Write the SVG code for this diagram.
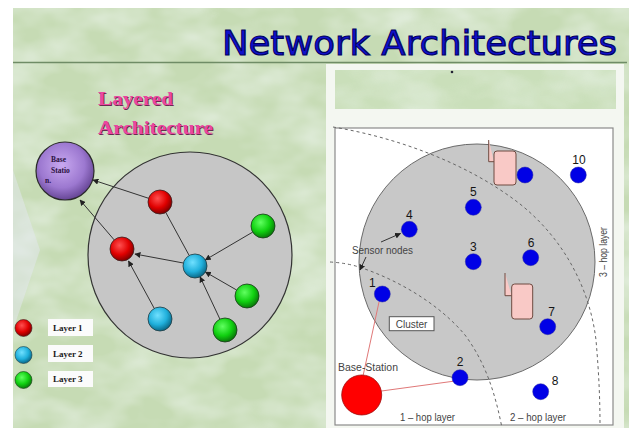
<svg xmlns="http://www.w3.org/2000/svg" width="629" height="428" viewBox="0 0 629 428">
<defs>
<style>
.arr{stroke:#333;stroke-width:1;fill:none;marker-end:url(#ah)}
.plain{stroke:#333;stroke-width:1;fill:none}
.red{stroke:#e07878;stroke-width:1;fill:none}
.dash{stroke:#666;stroke-width:1;fill:none;stroke-dasharray:3 3}
.bn{fill:#0000e6;stroke:#2a2aa0;stroke-width:0.5}
.num{font-family:"Liberation Sans",Arial,sans-serif;font-size:12px;fill:#151515;text-anchor:middle}
.sm{font-family:"Liberation Sans",Arial,sans-serif;font-size:10px;fill:#444}
.leg{font-family:"Liberation Serif",serif;font-weight:bold;font-size:9px;fill:#1a1a1a}
.pink{fill:#f9c9c6;stroke:#6e4a40;stroke-width:1}
</style>
<marker id="ah" viewBox="0 0 10 10" refX="9" refY="5" markerWidth="6" markerHeight="6" markerUnits="userSpaceOnUse" orient="auto"><path d="M0,0 L10,5 L0,10 z" fill="#222"/></marker>
<radialGradient id="gRed" cx="0.4" cy="0.35" r="0.65"><stop offset="0" stop-color="#ff5050"/><stop offset="0.6" stop-color="#e00000"/><stop offset="1" stop-color="#800000"/></radialGradient>
<radialGradient id="gCy" cx="0.4" cy="0.35" r="0.65"><stop offset="0" stop-color="#70e0ff"/><stop offset="0.6" stop-color="#20b0dc"/><stop offset="1" stop-color="#0a6a8a"/></radialGradient>
<radialGradient id="gGr" cx="0.4" cy="0.35" r="0.65"><stop offset="0" stop-color="#60ff60"/><stop offset="0.6" stop-color="#10d010"/><stop offset="1" stop-color="#0a7a0a"/></radialGradient>
<radialGradient id="gPu" cx="0.45" cy="0.4" r="0.65"><stop offset="0" stop-color="#c8a8f0"/><stop offset="0.6" stop-color="#9c78d0"/><stop offset="1" stop-color="#5a3a88"/></radialGradient>
<filter id="tex" x="0" y="0" width="100%" height="100%">
<feTurbulence type="fractalNoise" baseFrequency="0.018 0.03" numOctaves="3" seed="7"/>
<feColorMatrix type="matrix" values="0 0 0 0 0.86  0 0 0 0 0.92  0 0 0 0 0.87  1.2 0 0 0 -0.42"/>
</filter>
</defs>

<!-- page -->
<rect x="0" y="0" width="629" height="428" fill="#ffffff"/>
<rect x="13" y="8" width="616" height="420" fill="#c6dbb4"/>
<rect x="13" y="8" width="616" height="420" filter="url(#tex)"/>
<polygon points="13,170 40,250 13,330" fill="#e3e7f0" opacity="0.5"/>

<!-- title -->
<text x="222" y="55" font-family="DejaVu Sans, sans-serif" font-size="34" fill="#1010cc" stroke="#000060" stroke-width="1.1" textLength="395" lengthAdjust="spacingAndGlyphs">Network Architectures</text>
<line x1="13" y1="62.5" x2="627" y2="62.5" stroke="#6f8c66" stroke-width="1.6"/>

<!-- right figure backdrop -->
<rect x="326" y="64" width="298" height="364" fill="#f4f7f1"/>
<rect x="335" y="70" width="281" height="39" fill="#cadfba"/>
<rect x="335" y="70" width="281" height="39" filter="url(#tex)" opacity="0.8"/>
<circle cx="452" cy="72" r="1.3" fill="#223"/>

<!-- left title -->
<g id="layered-title" font-family="Liberation Serif, serif" font-weight="bold" font-size="19">
<text x="99" y="106" fill="#6a2a50" textLength="75" lengthAdjust="spacingAndGlyphs">Layered</text>
<text x="98" y="105" fill="#ea46a0" textLength="75" lengthAdjust="spacingAndGlyphs">Layered</text>
<text x="99" y="135" fill="#6a2a50" textLength="115" lengthAdjust="spacingAndGlyphs">Architecture</text>
<text x="98" y="134" fill="#ea46a0" textLength="115" lengthAdjust="spacingAndGlyphs">Architecture</text>
</g>

<!-- left cluster -->
<g id="left-cluster"><ellipse cx="190" cy="255" rx="102" ry="103" fill="#c6c6c6" stroke="#333" stroke-width="1.2"/></g>

<g id="left-connectors">
<line class="arr" x1="148.6" y1="198.3" x2="93" y2="180"/>
<line class="arr" x1="114.2" y1="239.9" x2="80" y2="200"/>
<line class="plain" x1="189.2" y1="255.5" x2="165.8" y2="212.5"/>
<line class="arr" x1="183.3" y1="263" x2="135" y2="254"/>
<line class="arr" x1="252.7" y1="232.1" x2="205.3" y2="259.9"/>
<line class="arr" x1="236.6" y1="290" x2="205.4" y2="272"/>
<line class="arr" x1="219.9" y1="319.1" x2="200.1" y2="276.9"/>
<line class="arr" x1="154.3" y1="308.5" x2="128.5" y2="261"/>
</g>

<g id="base-station-left">
<circle cx="65" cy="171" r="29" fill="url(#gPu)" stroke="#2a2a2a" stroke-width="1.2"/>
<text x="51" y="162" font-family="Liberation Serif, serif" font-weight="bold" font-size="7.5" fill="#2a1040">Base</text>
<text x="51" y="173" font-family="Liberation Serif, serif" font-weight="bold" font-size="7.5" fill="#2a1040">Statio</text>
<text x="45" y="183" font-family="Liberation Serif, serif" font-weight="bold" font-size="7.5" fill="#2a1040">n.</text>
</g>
<g id="l1a"><circle cx="160" cy="202" r="12" fill="url(#gRed)" stroke="#3a2020" stroke-width="0.8"/></g>
<g id="l1b"><circle cx="122" cy="249" r="12" fill="url(#gRed)" stroke="#3a2020" stroke-width="0.8"/></g>
<g id="l2a"><circle cx="195" cy="266" r="12" fill="url(#gCy)" stroke="#203a40" stroke-width="0.8"/></g>
<g id="l2b"><circle cx="160" cy="319" r="12" fill="url(#gCy)" stroke="#203a40" stroke-width="0.8"/></g>
<g id="l3a"><circle cx="263" cy="226" r="12" fill="url(#gGr)" stroke="#1a3a1a" stroke-width="0.8"/></g>
<g id="l3b"><circle cx="247" cy="296" r="12" fill="url(#gGr)" stroke="#1a3a1a" stroke-width="0.8"/></g>
<g id="l3c"><circle cx="225" cy="330" r="12" fill="url(#gGr)" stroke="#1a3a1a" stroke-width="0.8"/></g>

<!-- legend -->
<g id="legend1"><circle cx="23.5" cy="328" r="8.5" fill="url(#gRed)" stroke="#3a2020" stroke-width="0.6"/><rect x="48" y="319" width="45" height="17" fill="#fbfbfb"/><text class="leg" x="53" y="331">Layer 1</text></g>
<g id="legend2"><circle cx="23.5" cy="355" r="8.5" fill="url(#gCy)" stroke="#203a40" stroke-width="0.6"/><rect x="48" y="345" width="45" height="17" fill="#fbfbfb"/><text class="leg" x="53" y="357">Layer 2</text></g>
<g id="legend3"><circle cx="23.5" cy="380" r="8.5" fill="url(#gGr)" stroke="#1a3a1a" stroke-width="0.6"/><rect x="48" y="371" width="45" height="16" fill="#fbfbfb"/><text class="leg" x="53" y="382">Layer 3</text></g>

<!-- right panel -->
<g id="right-panel">
<rect x="335" y="128" width="278" height="297" fill="#ffffff" stroke="#8a8a8a" stroke-width="1.2"/>
<circle cx="477" cy="262" r="118" fill="#c8c8c8" stroke="#6a6a6a" stroke-width="1"/>
</g>

<g id="hop-arcs">
<path class="dash" d="M330,262 Q348,263 362,268 C400,281 440,305 465,335 C485,362 495,392 502,428"/>
<path class="dash" d="M333,127 C400,138 470,165 520,204 C565,240 590,290 596,340 C599,375 600,400 600,426"/>
</g>

<g id="right-connectors">
<line class="red" x1="363" y1="376" x2="379" y2="302"/>
<line class="red" x1="381.5" y1="391" x2="455" y2="381"/>
<line class="arr" x1="381" y1="242" x2="400.5" y2="233.5"/>
<line class="arr" x1="366" y1="257" x2="360" y2="270"/>
</g>

<g id="pink1"><path class="pink" d="M488.7,140 V161.7 H494" fill="none"/><rect class="pink" x="494" y="151" width="22" height="34" rx="3"/></g>
<g id="pink2"><path class="pink" d="M505,273 V295.7 H511.7" fill="none"/><rect class="pink" x="511.7" y="284" width="21" height="35" rx="3"/></g>

<g id="n10"><circle class="bn" cx="578.3" cy="175" r="8"/><text class="num" x="579" y="164">10</text></g>
<g id="n9"><circle class="bn" cx="525" cy="175" r="8"/></g>
<g id="n5"><circle class="bn" cx="473.3" cy="207.3" r="8"/><text class="num" x="473.3" y="196">5</text></g>
<g id="n4"><circle class="bn" cx="409.3" cy="229.3" r="8"/><text class="num" x="409.3" y="218.5">4</text></g>
<g id="n3"><circle class="bn" cx="473.3" cy="261.7" r="8"/><text class="num" x="473.3" y="250.5">3</text></g>
<g id="n6"><circle class="bn" cx="530.7" cy="257.7" r="8"/><text class="num" x="531" y="246.5">6</text></g>
<g id="n1"><circle class="bn" cx="382.3" cy="294" r="8"/><text class="num" x="372.3" y="287">1</text></g>
<g id="n7"><circle class="bn" cx="547.7" cy="326.7" r="8"/><text class="num" x="551.7" y="316">7</text></g>
<g id="n2"><circle class="bn" cx="460" cy="377.7" r="8"/><text class="num" x="460" y="366">2</text></g>
<g id="n8"><circle class="bn" cx="540.7" cy="391.7" r="8"/><text class="num" x="555" y="384.5">8</text></g>

<g id="base-station-right">
<circle cx="361.7" cy="395" r="20" fill="#ff0000" stroke="#a01010" stroke-width="0.8"/>
<text class="sm" x="338" y="370.5" textLength="60" lengthAdjust="spacingAndGlyphs">Base-Station</text>
</g>
<g id="cluster-label"><rect x="389.3" y="316.7" width="44.7" height="14" fill="#ffffff" stroke="#555" stroke-width="1"/><text class="sm" x="411.6" y="327.5" text-anchor="middle">Cluster</text></g>
<g id="sensor-label"><text class="sm" x="352" y="254" textLength="61" lengthAdjust="spacingAndGlyphs">Sensor nodes</text></g>
<g id="hop-labels">
<text class="sm" x="400" y="421" textLength="55" lengthAdjust="spacingAndGlyphs">1 – hop layer</text>
<text class="sm" x="510" y="421" textLength="56" lengthAdjust="spacingAndGlyphs">2 – hop layer</text>
<text class="sm" x="0" y="0" text-anchor="middle" transform="translate(606.5,252) rotate(-90)" textLength="50" lengthAdjust="spacingAndGlyphs">3 – hop layer</text>
</g>
</svg>
